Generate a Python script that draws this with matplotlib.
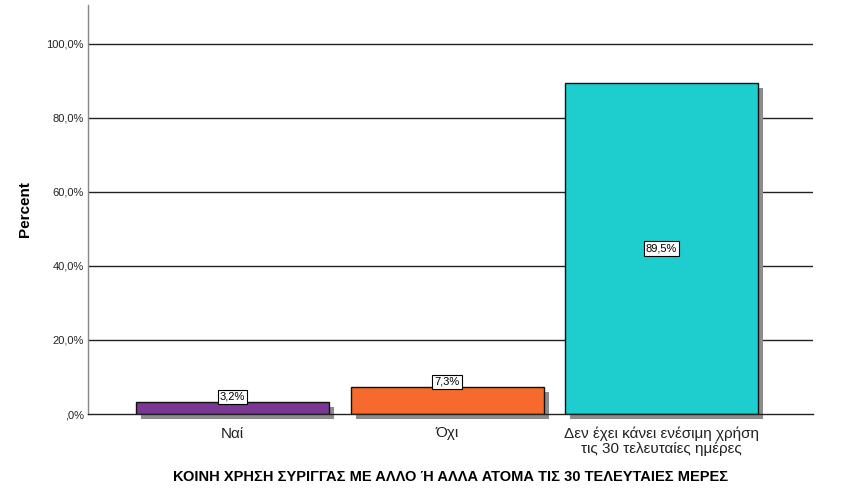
import matplotlib
matplotlib.use("Agg")
import matplotlib.pyplot as plt
import matplotlib.transforms as mtransforms

categories = ["Ναί", "Όχι", "Δεν έχει κάνει ενέσιμη χρήση\nτις 30 τελευταίες ημέρες"]
values = [3.2, 7.3, 89.5]
value_labels = ["3,2%", "7,3%", "89,5%"]
colors = ["#7b3794", "#f66a2d", "#1ecdcd"]
yticks = [0, 20, 40, 60, 80, 100]
ytick_labels = [",0%", "20,0%", "40,0%", "60,0%", "80,0%", "100,0%"]
xlabel = "ΚΟΙΝΗ ΧΡΗΣΗ ΣΥΡΙΓΓΑΣ ΜΕ ΑΛΛΟ Ή ΑΛΛΑ ΑΤΟΜΑ ΤΙΣ 30 ΤΕΛΕΥΤΑΙΕΣ ΜΕΡΕΣ"
ylabel = "Percent"

plt.rcParams['font.family'] = ['Liberation Sans', 'DejaVu Sans']

fig = plt.figure(figsize=(8.51, 5.01), dpi=100)
ax = fig.add_axes([88/851, 1-414/501, (813-88)/851, (414-5)/501])

x = list(range(len(categories)))
ax.set_xlim(-0.674, 2.706)
ax.set_ylim(0, 110.5)

for yt in yticks[1:]:
    ax.axhline(yt, color="#222222", lw=1.0, zorder=1)

shadow_tr = ax.transData + mtransforms.ScaledTranslation(5/100, -5/100, fig.dpi_scale_trans)
ax.bar(x, values, width=0.9, color="#8c8c8c", transform=shadow_tr, zorder=2, clip_on=False)
ax.bar(x, values, width=0.9, color=colors, edgecolor="#111111", lw=1.0, zorder=3)

for xi, v, lab in zip(x, values, value_labels):
    yy = v / 2 if v > 20 else v + 1.4
    ax.text(xi, yy, lab, ha="center", va="center", fontsize=8, zorder=5,
            bbox=dict(boxstyle="square,pad=0.2", fc="white", ec="black", lw=0.8))

ax.set_yticks(yticks)
ax.set_yticklabels(ytick_labels, fontsize=8)
ax.set_xticks(x)
ax.set_xticklabels(categories, fontsize=11, linespacing=1.05)
ax.tick_params(axis="both", length=0, pad=3, colors="#222222")
ax.tick_params(axis="x", pad=9)

for s in ["top", "right"]:
    ax.spines[s].set_visible(False)
ax.spines["left"].set_color("#888888")
ax.spines["left"].set_linewidth(1.0)
ax.spines["bottom"].set_color("#222222")
ax.spines["bottom"].set_linewidth(1.0)
ax.spines["bottom"].set_zorder(4)

ax.set_ylabel(ylabel, fontsize=11, fontweight="bold", labelpad=10)
ax.set_xlabel(xlabel, fontsize=10.5, fontweight="bold", labelpad=10)

fig.savefig("out.png", dpi=100)
